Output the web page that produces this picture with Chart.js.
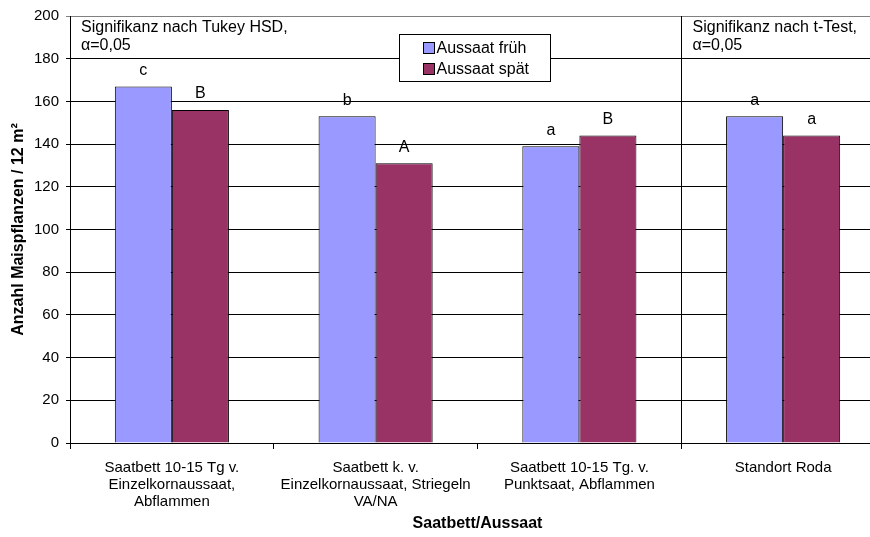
<!DOCTYPE html>
<html>
<head>
<meta charset="utf-8">
<script src="https://cdn.jsdelivr.net/npm/chart.js@4.4.1/dist/chart.umd.min.js"></script>
<style>
  html, body { margin: 0; padding: 0; background: #fff; overflow: hidden; }
  #wrap { width: 886px; height: 537px; }
</style>
</head>
<body>
<div id="wrap"><canvas id="chart" width="886" height="537"></canvas></div>
<script>
// data
const categories = [
  ['Saatbett 10-15 Tg v.', 'Einzelkornaussaat,', 'Abflammen'],
  ['Saatbett k. v.', 'Einzelkornaussaat, Striegeln', 'VA/NA'],
  ['Saatbett 10-15 Tg. v.', 'Punktsaat, Abflammen'],
  'Standort Roda'
];
const early = [167, 153, 139, 153];
const late = [156, 131, 144, 144];
const earlyLetters = ['c', 'b', 'a', 'a'];
const lateLetters = ['B', 'A', 'B', 'a'];
const seriesNames = ['Aussaat früh', 'Aussaat spät'];
const yTicks = [0, 20, 40, 60, 80, 100, 120, 140, 160, 180, 200];

const FONT = 'Liberation Sans, Arial, sans-serif';

// text, letters, divider and legend drawn on top
const extras = {
  id: 'extras',
  afterDatasetsDraw(chart) {
    const ctx = chart.ctx;
    const area = chart.chartArea;
    const x = chart.scales.x;
    ctx.save();

    // divider between Tukey groups and t-test group
    const divX = Math.round((x.getPixelForValue(2) + x.getPixelForValue(3)) / 2) + 0.5;
    ctx.strokeStyle = '#000';
    ctx.lineWidth = 1;
    ctx.beginPath();
    ctx.moveTo(divX, area.top);
    ctx.lineTo(divX, area.bottom);
    ctx.stroke();

    // significance letters above bars
    ctx.font = '16px ' + FONT;
    ctx.fillStyle = '#000';
    ctx.textAlign = 'center';
    ctx.textBaseline = 'bottom';
    const letters = [earlyLetters, lateLetters];
    chart.data.datasets.forEach((ds, i) => {
      chart.getDatasetMeta(i).data.forEach((bar, j) => {
        ctx.fillText(letters[i][j], bar.x, bar.y - 8);
      });
    });

    // header notes
    ctx.textAlign = 'left';
    ctx.textBaseline = 'alphabetic';
    ctx.fillText('Signifikanz nach Tukey HSD,', area.left + 11, 32);
    ctx.fillText('α=0,05', area.left + 11, 50);
    ctx.fillText('Signifikanz nach t-Test,', divX + 11, 32);
    ctx.fillText('α=0,05', divX + 11, 50);

    // legend box
    const lx = 399.5, ly = 34.5, lw = 151, lh = 47;
    ctx.fillStyle = '#fff';
    ctx.fillRect(lx, ly, lw, lh);
    ctx.strokeStyle = '#000';
    ctx.strokeRect(lx, ly, lw, lh);
    chart.data.datasets.forEach((ds, i) => {
      const cy = ly + 13 + i * 21;
      ctx.fillStyle = ds.backgroundColor;
      ctx.fillRect(lx + 24, cy - 5, 11, 11);
      ctx.strokeRect(lx + 24, cy - 5, 11, 11);
      ctx.fillStyle = '#000';
      ctx.textBaseline = 'middle';
      ctx.fillText(ds.label, lx + 37, cy + 1);
    });
    ctx.restore();
  }
};

new Chart(document.getElementById('chart'), {
  type: 'bar',
  data: {
    labels: categories,
    datasets: [
      { label: seriesNames[0], data: early, backgroundColor: '#9999FF', borderColor: '#000', borderWidth: 1 },
      { label: seriesNames[1], data: late, backgroundColor: '#993366', borderColor: '#000', borderWidth: 1 }
    ]
  },
  options: {
    responsive: false,
    animation: false,
    events: [],
    layout: { padding: { top: 14, right: 1, left: 0, bottom: 0 } },
    categoryPercentage: 0.56,
    barPercentage: 1,
    plugins: { legend: { display: false }, tooltip: { enabled: false } },
    scales: {
      x: {
        afterFit: s => { s.height = 94; },
        grid: { display: true, drawOnChartArea: false, drawTicks: true, tickLength: 6, color: '#000', offset: true },
        border: { color: '#000' },
        ticks: { color: '#000', font: { family: FONT, size: 15, lineHeight: 1.13 }, padding: 10, maxRotation: 0, autoSkip: false },
        title: { display: true, text: 'Saatbett/Aussaat', color: '#000', font: { family: FONT, size: 16, weight: 'bold' }, padding: { top: 4, bottom: 4 } }
      },
      y: {
        min: 0, max: 200,
        afterFit: s => { s.width = 70; },
        afterBuildTicks: s => { s.ticks = yTicks.map(v => ({ value: v })); },
        grid: { color: ctx => ctx.tick && ctx.tick.value === 200 ? '#808080' : '#000', tickLength: 4 },
        border: { color: '#000' },
        ticks: { color: '#000', font: { family: FONT, size: 15 }, padding: 7 },
        title: { display: true, text: 'Anzahl Maispflanzen / 12 m²', color: '#000', font: { family: FONT, size: 16, weight: 'bold' }, padding: { top: 9, bottom: 0 } }
      }
    }
  },
  plugins: [extras]
});
</script>
</body>
</html>
